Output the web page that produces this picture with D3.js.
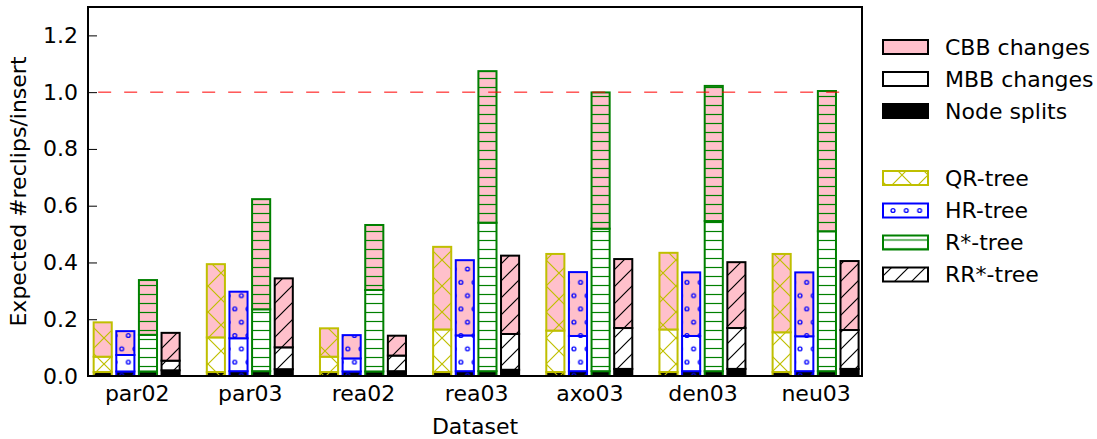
<!DOCTYPE html>
<html>
<head>
<meta charset="utf-8">
<script src="https://cdn.jsdelivr.net/npm/d3@7/dist/d3.min.js"></script>
<style>
  html, body { margin: 0; padding: 0; background: #fff; }
  svg text { font-family: "DejaVu Sans", sans-serif; fill: #000; }
</style>
</head>
<body>
<svg id="chart" width="1097" height="439"></svg>
<script>
// ---------------- DATA ----------------
const categories = ["par02", "par03", "rea02", "rea03", "axo03", "den03", "neu03"];
const treeNames = ["QR-tree", "HR-tree", "R*-tree", "RR*-tree"];
const componentNames = ["CBB changes", "MBB changes", "Node splits"];

// per tree: node splits, MBB changes, CBB changes (expected #reclips/insert)
const qrSplits  = [0.014, 0.014, 0.014, 0.014, 0.014, 0.014, 0.014];
const qrMBB     = [0.054, 0.122, 0.054, 0.150, 0.146, 0.150, 0.140];
const qrCBB     = [0.121, 0.258, 0.100, 0.291, 0.270, 0.270, 0.276];

const hrSplits  = [0.016, 0.017, 0.016, 0.017, 0.017, 0.017, 0.017];
const hrMBB     = [0.058, 0.116, 0.046, 0.126, 0.124, 0.124, 0.123];
const hrCBB     = [0.084, 0.164, 0.082, 0.265, 0.225, 0.224, 0.225];

const rsSplits  = [0.016, 0.017, 0.016, 0.017, 0.017, 0.017, 0.017];
const rsMBB     = [0.129, 0.218, 0.287, 0.523, 0.502, 0.529, 0.493];
const rsCBB     = [0.193, 0.388, 0.229, 0.534, 0.480, 0.476, 0.494];

const rrSplits  = [0.020, 0.024, 0.017, 0.022, 0.025, 0.025, 0.025];
const rrMBB     = [0.034, 0.077, 0.055, 0.126, 0.144, 0.144, 0.137];
const rrCBB     = [0.098, 0.243, 0.070, 0.276, 0.243, 0.232, 0.243];

const yTicks = [0.0, 0.2, 0.4, 0.6, 0.8, 1.0, 1.2];
const refValue = 1.0;
const refSpan = [0.04, 6.62];

// ---------------- STYLE / LAYOUT ----------------
const W = 1097, H = 439;
const M = { left: 88, right: 862, top: 7, bottom: 376 };
const treeColors = ["#bfbf00", "#0000ff", "#008000", "#000000"];
const compFills = ["#ffc0cb", "#ffffff", "#000000"]; // CBB, MBB, splits
const barStep = 0.2, barWidth = 0.16;
const FS = 22;

const svg = d3.select("#chart");
svg.append("rect").attr("width", W).attr("height", H).attr("fill", "#fff");

const x = d3.scaleLinear().domain([-0.05, 6.79]).range([M.left, M.right]);
const y = d3.scaleLinear().domain([0, 1.3]).range([M.bottom, M.top]);

// ---------- hatch patterns ----------
const defs = svg.append("defs");
function makePatterns(suffix, ox, oy) {
  // QR: 'x'
  {
    const s = 26;
    const p = defs.append("pattern").attr("id", "hatch0" + suffix).attr("patternUnits", "userSpaceOnUse")
      .attr("width", s).attr("height", s).attr("x", ox[0]).attr("y", oy[0]);
    p.append("path").attr("d", `M0,0L${s},${s}M0,${s}L${s},0`)
      .attr("stroke", treeColors[0]).attr("stroke-width", 1.2).attr("fill", "none");
  }
  // HR: 'o'
  {
    const w = 13.3, h = 26.6;
    const p = defs.append("pattern").attr("id", "hatch1" + suffix).attr("patternUnits", "userSpaceOnUse")
      .attr("width", w).attr("height", h).attr("x", ox[1]).attr("y", oy[1]);
    [[0, 0], [w, 0], [0, h], [w, h], [w / 2, h / 2]].forEach(([cx, cy]) => {
      p.append("circle").attr("cx", cx).attr("cy", cy).attr("r", 1.9)
        .attr("fill", "none").attr("stroke", treeColors[1]).attr("stroke-width", 1.3);
    });
  }
  // R*: '-'
  {
    const h = 9;
    const p = defs.append("pattern").attr("id", "hatch2" + suffix).attr("patternUnits", "userSpaceOnUse")
      .attr("width", 10).attr("height", h).attr("x", ox[2]).attr("y", oy[2]);
    p.append("line").attr("x1", 0).attr("x2", 10).attr("y1", h / 2).attr("y2", h / 2)
      .attr("stroke", treeColors[2]).attr("stroke-width", 1.2);
  }
  // RR*: '/'
  {
    const s = 17;
    const p = defs.append("pattern").attr("id", "hatch3" + suffix).attr("patternUnits", "userSpaceOnUse")
      .attr("width", s).attr("height", s).attr("x", ox[3]).attr("y", oy[3]);
    p.append("path").attr("d", `M0,${s}L${s},0M${-s/2},${s/2}L${s/2},${-s/2}M${s/2},${s*1.5}L${s*1.5},${s/2}`)
      .attr("stroke", treeColors[3]).attr("stroke-width", 1.2).attr("fill", "none");
  }
}
makePatterns("", [0, 2, 0, 0], [0, 3, 2, 0]);
makePatterns("L", [5, 893 - 13.3 / 2, 0, 3], [6, 210.5 - 13.3, 1.5, 0]);

// ---------- bars ----------
const treeData = [
  [qrSplits, qrMBB, qrCBB],
  [hrSplits, hrMBB, hrCBB],
  [rsSplits, rsMBB, rsCBB],
  [rrSplits, rrMBB, rrCBB]
];
const segFill = [compFills[2], compFills[1], compFills[0]]; // splits, MBB, CBB

const segs = [];
treeData.forEach((arrs, t) => {
  categories.forEach((c, i) => {
    let base = 0;
    arrs.forEach((arr, s) => {
      const v = arr[i];
      segs.push({ t, i, s, y0: base, y1: base + v });
      base += v;
    });
  });
});

const barG = svg.append("g");
const segG = barG.selectAll("g.seg").data(segs).join("g").attr("class", "seg");
const bx = d => x(d.i + d.t * barStep);
const bw = () => x(barWidth) - x(0);
segG.append("rect")
  .attr("x", bx).attr("width", bw)
  .attr("y", d => y(d.y1)).attr("height", d => y(d.y0) - y(d.y1))
  .attr("fill", d => segFill[d.s]);
segG.append("rect")
  .attr("x", bx).attr("width", bw)
  .attr("y", d => y(d.y1)).attr("height", d => y(d.y0) - y(d.y1))
  .attr("fill", d => `url(#hatch${d.t})`)
  .attr("stroke", d => treeColors[d.t]).attr("stroke-width", 2);

// ---------- reference line ----------
svg.append("line")
  .attr("x1", x(refSpan[0])).attr("x2", x(refSpan[1]))
  .attr("y1", y(refValue)).attr("y2", y(refValue))
  .attr("stroke", "#ff0000").attr("stroke-width", 1)
  .attr("stroke-dasharray", "13,13");

// ---------- axes ----------
const yAxis = d3.axisLeft(y).tickValues(yTicks).tickFormat(d3.format(".1f"))
  .tickSizeInner(-9).tickSizeOuter(0).tickPadding(10);
const yG = svg.append("g").attr("transform", `translate(${M.left},0)`).call(yAxis);
yG.select(".domain").remove();
yG.selectAll(".tick line").attr("stroke", "#000").attr("stroke-width", 1);
yG.selectAll(".tick text").attr("font-size", FS).attr("font-family", "DejaVu Sans");

const xTickPos = categories.map((c, i) => i + (3 * barStep + barWidth) / 2);
const xAxis = d3.axisBottom(x).tickValues(xTickPos)
  .tickFormat((d, k) => categories[k]).tickSize(0).tickPadding(9);
const xG = svg.append("g").attr("transform", `translate(0,${M.bottom})`).call(xAxis);
xG.select(".domain").remove();
xG.selectAll(".tick text").attr("font-size", FS).attr("font-family", "DejaVu Sans");

// frame
svg.append("rect")
  .attr("x", M.left).attr("y", M.top)
  .attr("width", M.right - M.left).attr("height", M.bottom - M.top)
  .attr("fill", "none").attr("stroke", "#000").attr("stroke-width", 2);

// axis labels
svg.append("text").attr("transform", `translate(26,${(M.top + M.bottom) / 2}) rotate(-90)`)
  .attr("text-anchor", "middle").attr("font-size", FS).text("Expected #reclips/insert");
svg.append("text").attr("x", (M.left + M.right) / 2).attr("y", 434)
  .attr("text-anchor", "middle").attr("font-size", FS).text("Dataset");

// ---------- legend ----------
const legG = svg.append("g");
const patchX = 883, patchW = 45, patchH = 14, textX = 945;
const compRowsY = [47, 79, 111];
const treeRowsY = [178, 210.5, 242.5, 274.5];
componentNames.forEach((name, k) => {
  legG.append("rect").attr("x", patchX).attr("y", compRowsY[k] - patchH / 2)
    .attr("width", patchW).attr("height", patchH)
    .attr("fill", compFills[k]).attr("stroke", "#000").attr("stroke-width", 2);
  legG.append("text").attr("x", textX).attr("y", compRowsY[k]).attr("dy", "0.35em")
    .attr("font-size", FS).text(name);
});
treeNames.forEach((name, k) => {
  legG.append("rect").attr("x", patchX).attr("y", treeRowsY[k] - patchH / 2)
    .attr("width", patchW).attr("height", patchH).attr("fill", "#fff");
  legG.append("rect").attr("x", patchX).attr("y", treeRowsY[k] - patchH / 2)
    .attr("width", patchW).attr("height", patchH)
    .attr("fill", `url(#hatch${k}L)`).attr("stroke", treeColors[k]).attr("stroke-width", 2);
  legG.append("text").attr("x", textX).attr("y", treeRowsY[k]).attr("dy", "0.35em")
    .attr("font-size", FS).text(name);
});
</script>
</body>
</html>
